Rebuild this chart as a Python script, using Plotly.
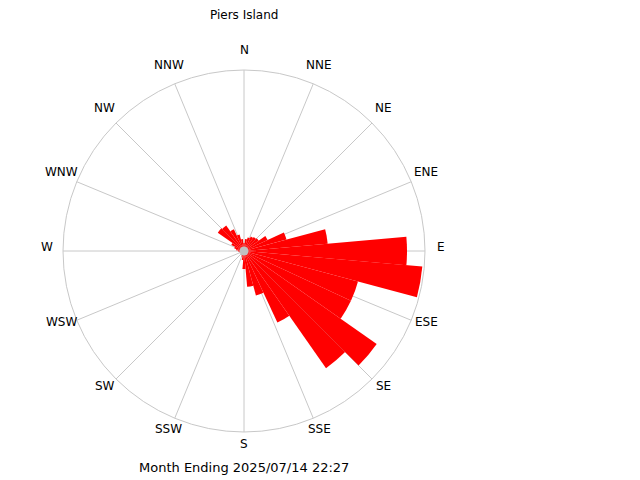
import math
import plotly.graph_objects as go

# Wind direction bins (degrees, 10-degree sectors) and bar lengths (relative frequency, arbitrary units)
directions = [0, 10, 20, 30, 40, 50, 60, 70, 80, 90, 100, 110, 120, 130, 140, 150, 160, 170,
              180, 190, 200, 210, 220, 230, 240, 250, 260, 270, 280, 290, 300, 310, 320, 330, 340, 350]
frequency = [8, 12, 14, 16, 17, 18, 26, 44, 84, 163, 179, 118, 118, 162, 143, 79, 46, 36,
             18, 9, 6, 5, 4, 4, 4, 4, 5, 6, 8, 10, 14, 32, 31, 24, 17, 12]
r_max = 181

compass_vals = [i * 22.5 for i in range(16)]
compass_text = ["N", "NNE", "NE", "ENE", "E", "ESE", "SE", "SSE",
                "S", "SSW", "SW", "WSW", "W", "WNW", "NW", "NNW"]

title_text = "Piers Island"
footer_text = "Month Ending 2025/07/14 22:27"

W, H = 640, 480
cx, cy, R = 244, 251, 181
label_r = 197

fig = go.Figure()
fig.add_trace(go.Barpolar(
    r=frequency, theta=directions, width=[10] * len(directions),
    marker=dict(color="#ff0000", line=dict(width=0)),
    hoverinfo="skip", showlegend=False,
))
fig.add_trace(go.Scatterpolar(
    r=[0], theta=[0], mode="markers",
    marker=dict(size=9, color="#c0c0c0"),
    hoverinfo="skip", showlegend=False,
))

annotations = [
    dict(text=title_text, x=cx / W, y=1 - 15 / H, xref="paper", yref="paper",
         showarrow=False, xanchor="center", yanchor="middle",
         font=dict(family="DejaVu Sans", size=12, color="#000000")),
    dict(text=footer_text, x=cx / W, y=1 - 467 / H, xref="paper", yref="paper",
         showarrow=False, xanchor="center", yanchor="middle",
         font=dict(family="DejaVu Sans", size=13, color="#000000")),
]
for ang, txt in zip(compass_vals, compass_text):
    a = math.radians(ang)
    px = cx + label_r * math.sin(a)
    py = cy - label_r * math.cos(a) - 4
    annotations.append(dict(
        text=txt, x=px / W, y=1 - py / H, xref="paper", yref="paper",
        showarrow=False, xanchor="center", yanchor="middle",
        font=dict(family="DejaVu Sans", size=12, color="#000000")))

fig.update_layout(
    width=W, height=H,
    margin=dict(l=0, r=0, t=0, b=0),
    paper_bgcolor="white",
    polar=dict(
        domain=dict(x=[(cx - R) / W, (cx + R) / W], y=[1 - (cy + R) / H, 1 - (cy - R) / H]),
        bgcolor="white",
        barmode="overlay",
        angularaxis=dict(
            direction="clockwise", rotation=90,
            tickmode="array", tickvals=compass_vals, ticktext=compass_text,
            showticklabels=False, ticks="",
            showgrid=True, gridcolor="#c8c8c8", gridwidth=1,
            showline=True, linecolor="#c8c8c8", linewidth=1,
            layer="above traces",
        ),
        radialaxis=dict(
            range=[0, r_max], showgrid=False, showline=False,
            showticklabels=False, ticks="",
        ),
    ),
    annotations=annotations,
)

fig.write_html("out.html")
